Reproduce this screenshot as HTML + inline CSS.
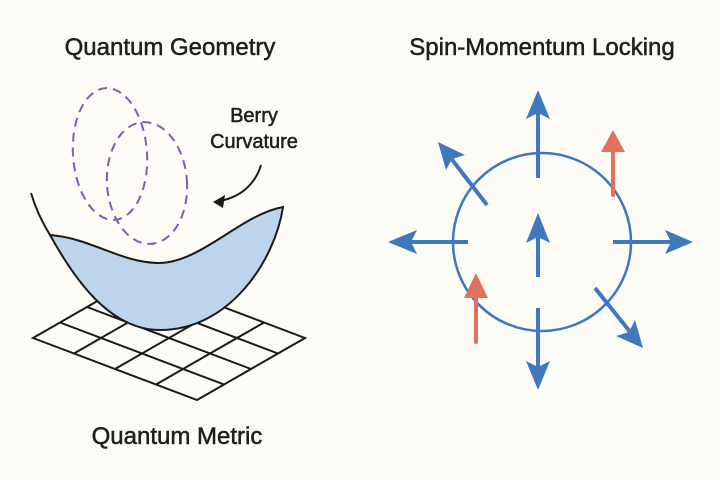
<!DOCTYPE html>
<html><head><meta charset="utf-8"><style>
html,body{margin:0;padding:0;background:#fdfbf5;}
svg{display:block;}
text{font-family:"Liberation Sans",sans-serif;fill:#1f1f1f;stroke:#1f1f1f;stroke-width:0.5;}
</style></head><body>
<svg width="720" height="480" viewBox="0 0 720 480">
<rect width="720" height="480" fill="#fdfbf5"/>
<text x="170" y="55" font-size="24" text-anchor="middle">Quantum Geometry</text>
<text x="542" y="55" font-size="24" text-anchor="middle">Spin-Momentum Locking</text>
<text x="177" y="444" font-size="24" text-anchor="middle">Quantum Metric</text>
<text x="254" y="122" font-size="20" text-anchor="middle">Berry</text>
<text x="254" y="148" font-size="20" text-anchor="middle">Curvature</text>
<g stroke="#1a1a1a" stroke-width="2" fill="none">
<path d="M33,338 L141,276 L305,338 L197,400 Z"/>
<path d="M74,353.5 L182,291.5 M115,369 L223,307 M156,384.5 L264,322.5"/>
<path d="M60,322.5 L224,384.5 M87,307 L251,369 M114,291.5 L278,353.5"/>
</g>
<g stroke="#7b5fb5" stroke-width="2" fill="none" stroke-dasharray="9,6">
<ellipse cx="110" cy="154" rx="37" ry="66" transform="rotate(-4 110 154)"/>
<ellipse cx="147" cy="183" rx="40" ry="61" transform="rotate(-4 147 183)"/>
</g>
<path d="M50,235 C90,238 120,262 157,263 C200,264 240,215 283,207 C275,260 230,330 160,330 C110,330 75,280 50,235 Z" fill="#bcd4ec" stroke="#1a1a1a" stroke-width="2"/>
<path d="M31,193 C36,210 42,222 50,235" fill="none" stroke="#1a1a1a" stroke-width="2"/>
<path d="M261,165 C255,185 240,197 220,201" fill="none" stroke="#1a1a1a" stroke-width="2"/>
<path d="M213,202 L225,195 L223,208 Z" fill="#1a1a1a"/>
<circle cx="542" cy="242" r="89" fill="none" stroke="#3f78bd" stroke-width="2.5"/>
<g stroke="#3f78bd" stroke-width="4" fill="#3f78bd">
<line x1="538" y1="178" x2="538" y2="110"/><path d="M538,90 L526,119 L538,113 L550,119 Z" stroke="none"/>
<line x1="538" y1="308" x2="538" y2="370"/><path d="M538,390 L526,361 L538,367 L550,361 Z" stroke="none"/>
<line x1="468" y1="242" x2="410" y2="242"/><path d="M388,242 L417,230 L411,242 L417,254 Z" stroke="none"/>
<line x1="613" y1="242" x2="672" y2="242"/><path d="M693,242 L665,230 L671,242 L665,254 Z" stroke="none"/>
<line x1="538" y1="277" x2="538" y2="236"/><path d="M538,213 L526,243 L538,237 L550,243 Z" stroke="none"/>
<line x1="487" y1="205" x2="450" y2="157"/><path d="M438,142 L465,155 L452,159 L446,170 Z" stroke="none"/>
<line x1="595" y1="288" x2="631" y2="333"/><path d="M643,348 L616,336 L629,332 L635,320 Z" stroke="none"/>
</g>
<g stroke="#e07060" stroke-width="4" fill="#e07060" stroke-linecap="round">
<line x1="613" y1="195" x2="613" y2="148"/><path d="M613,130 L601,152 L625,152 Z" stroke="none"/>
<line x1="476" y1="342" x2="476" y2="294"/><path d="M476,273 L464,298 L488,298 Z" stroke="none"/>
</g>
</svg>
</body></html>
